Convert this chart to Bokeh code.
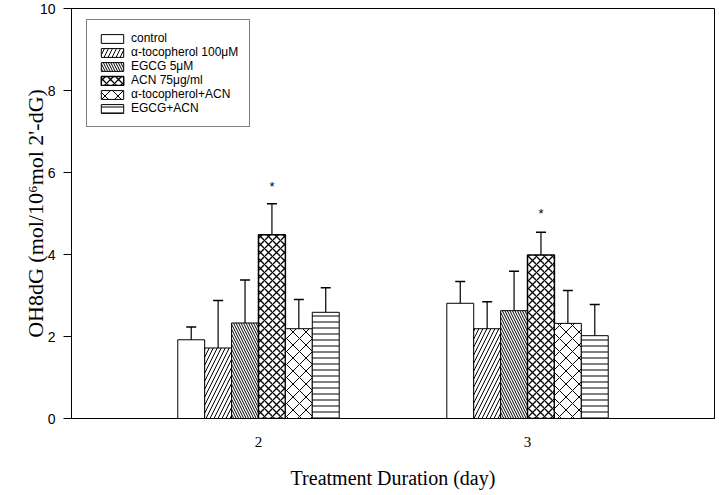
import numpy as np
from bokeh.plotting import figure
from bokeh.models import (Range1d, FixedTicker, Whisker, TeeHead, ColumnDataSource,
                          Legend, LegendItem)
from bokeh.core.properties import value
from bokeh.embed import file_html
from bokeh.resources import INLINE

# ---- data ----
days = [2, 3]
series = ["control", "\u03b1-tocopherol 100\u03bcM", "EGCG 5\u03bcM", "ACN 75\u03bcg/ml",
          "\u03b1-tocopherol+ACN", "EGCG+ACN"]
day2_values = [1.92, 1.72, 2.33, 4.48, 2.19, 2.59]
day2_sd = [0.31, 1.16, 1.05, 0.76, 0.71, 0.60]
day3_values = [2.81, 2.19, 2.63, 3.99, 2.32, 2.02]
day3_sd = [0.53, 0.66, 0.96, 0.55, 0.80, 0.76]
star_y = [5.66, 5.00]
y_ticks = [0, 2, 4, 6, 8, 10]

# ---- styles ----
offsets = [-0.25, -0.15, -0.05, 0.05, 0.15, 0.25]
bar_w = 0.1
hatches = [" ", "/", "\\", "x", "x", "-"]
hatch_scales = [8, 8, 5, 8, 13, 6]
hatch_weights = [1, 1, 1, 1.3, 1, 1]
line_widths = [1, 1, 1, 1.5, 1, 1]

serif = "Liberation Serif"
sans = "Liberation Sans"

p = figure(width=716, height=494, output_backend="svg", toolbar_location=None,
           x_range=Range1d(1.305, 3.695), y_range=Range1d(0, 10),
           min_border_left=71, min_border_right=2, min_border_top=8, min_border_bottom=76)
p.background_fill_color = "white"
p.border_fill_color = "white"
p.outline_line_color = "black"
p.outline_line_width = 1
p.xgrid.visible = False
p.ygrid.visible = False

items = []
for i, name in enumerate(series):
    xs = [d + offsets[i] for d in days]
    tops = [day2_values[i], day3_values[i]]
    ups = [day2_values[i] + day2_sd[i], day3_values[i] + day3_sd[i]]
    src = ColumnDataSource(dict(x=xs, top=tops, upper=ups))
    r = p.vbar(x="x", top="top", width=bar_w, bottom=0, source=src,
               fill_color="white", line_color="black", line_width=line_widths[i],
               hatch_pattern=hatches[i], hatch_color="black",
               hatch_scale=hatch_scales[i], hatch_weight=hatch_weights[i])
    w = Whisker(base="x", lower="top", upper="upper", source=src,
                line_color="black", line_width=1.2,
                upper_head=TeeHead(size=10, line_color="black", line_width=1.5),
                lower_head=None, level="overlay")
    p.add_layout(w)
    items.append(LegendItem(label=name, renderers=[r]))

# significance stars above ACN bars
p.text(x=[d + offsets[3] for d in days], y=star_y, text=["*", "*"],
       text_font=value(sans), text_font_size="13px", text_align="center",
       text_baseline="middle", text_color="black")

legend = Legend(items=items, location=(15, 291), orientation="vertical",
                label_text_font=sans, label_text_font_size="12px",
                label_text_color="black",
                glyph_width=28, glyph_height=11, label_height=11, spacing=0,
                label_standoff=5, padding=11, margin=0,
                border_line_color="black", border_line_width=1,
                background_fill_color="white", background_fill_alpha=1)
p.add_layout(legend, "center")

# axes
p.xaxis.ticker = FixedTicker(ticks=days)
p.xaxis.major_label_text_font = serif
p.xaxis.major_label_text_font_size = "15px"
p.xaxis.major_label_text_color = "black"
p.xaxis.major_label_standoff = 18
p.xaxis.major_tick_out = 0
p.xaxis.major_tick_in = 0
p.xaxis.minor_tick_out = 0
p.xaxis.minor_tick_in = 0
p.xaxis.axis_label = "Treatment Duration (day)"
p.xaxis.axis_label_text_font = serif
p.xaxis.axis_label_text_font_style = "normal"
p.xaxis.axis_label_text_font_size = "20px"
p.xaxis.axis_label_text_color = "black"
p.xaxis.axis_label_standoff = 17
p.xaxis.axis_line_color = "black"

p.yaxis.ticker = FixedTicker(ticks=y_ticks)
p.yaxis.major_label_text_font = sans
p.yaxis.major_label_text_font_size = "14px"
p.yaxis.major_label_text_color = "black"
p.yaxis.major_tick_out = 8
p.yaxis.major_tick_in = 0
p.yaxis.minor_tick_out = 0
p.yaxis.minor_tick_in = 0
p.yaxis.major_label_standoff = 8
p.yaxis.axis_line_color = "black"
p.yaxis.axis_label = "OH8dG (mol/10\u2076mol 2'-dG)"
p.yaxis.axis_label_text_font = serif
p.yaxis.axis_label_text_font_style = "normal"
p.yaxis.axis_label_text_font_size = "22px"
p.yaxis.axis_label_text_color = "black"
p.yaxis.axis_label_standoff = -11

open("out.html", "w").write(file_html(p, INLINE))
